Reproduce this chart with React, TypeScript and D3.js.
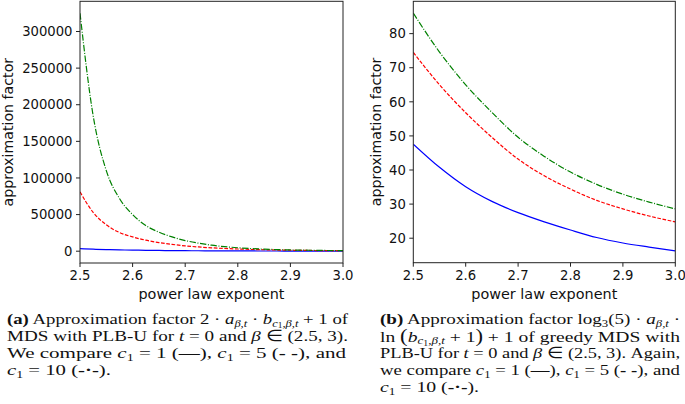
import React from 'react';
import * as d3 from 'd3';

// ---------- data ----------
const betaLeft = [2.5, 2.525, 2.55, 2.575, 2.6, 2.625, 2.65, 2.675, 2.7, 2.725, 2.75, 2.775, 2.8, 2.825, 2.85, 2.875, 2.9, 2.925, 2.95, 2.975, 3.0];
const leftC1 = [3400, 2700, 2150, 1750, 1450, 1200, 1000, 830, 700, 590, 500, 430, 370, 320, 280, 245, 215, 190, 165, 145, 125];
const leftC5 = [81000, 53000, 36000, 25500, 19500, 15000, 11800, 9300, 7300, 5800, 4600, 3700, 3000, 2450, 2000, 1600, 1300, 1100, 900, 750, 600];
const leftC10 = [325000, 185000, 110000, 72000, 50000, 35000, 26000, 19500, 14500, 11000, 8200, 6200, 4700, 3600, 2800, 2200, 1700, 1400, 1100, 950, 800];

const betaRight = [2.5, 2.55, 2.6, 2.65, 2.7, 2.75, 2.8, 2.85, 2.9, 2.95, 3.0];
const rightC1 = [47.6, 40.8, 35.1, 30.8, 27.5, 24.8, 22.4, 20.2, 18.6, 17.4, 16.3];
const rightC5 = [74.5, 65.0, 56.8, 49.6, 43.2, 38.3, 34.4, 31.1, 28.6, 26.5, 24.8];
const rightC10 = [86.0, 74.6, 65.0, 56.9, 49.6, 44.0, 39.4, 35.8, 32.9, 30.6, 28.6];

const xTicks = [2.5, 2.6, 2.7, 2.8, 2.9, 3.0];
const leftYTicks = [0, 50000, 100000, 150000, 200000, 250000, 300000];
const rightYTicks = [20, 30, 40, 50, 60, 70, 80];

const xLabel = 'power law exponent';
const yLabel = 'approximation factor';

const SANS = 'DejaVu Sans, sans-serif';
const SERIF = 'Liberation Serif, Times New Roman, serif';

type Series = { values: number[]; color: string; dash?: string };

function Panel(props: {
  left: number; right: number; top: number; bottom: number;
  xs: number[]; series: Series[]; yTicks: number[]; yLabelX: number;
}) {
  const { left, right, top, bottom, xs, series, yTicks, yLabelX } = props;
  const all = series.flatMap(s => s.values);
  const mn = d3.min(all)!, mx = d3.max(all)!;
  const pad = (mx - mn) * 0.05;
  const x = d3.scaleLinear().domain([2.5, 3.0]).range([left, right]);
  const y = d3.scaleLinear().domain([mn - pad, mx + pad]).range([bottom, top]);
  const line = (vals: number[]) =>
    d3.line<number>().x((_, i) => x(xs[i])).y(d => y(d)).curve(d3.curveMonotoneX)(vals) || '';
  const cx = (left + right) / 2;
  const cy = (top + bottom) / 2;
  const clipId = `clip-${Math.round(left)}`;
  return (
    <g>
      <defs>
        <clipPath id={clipId}>
          <rect x={left} y={top} width={right - left} height={bottom - top} />
        </clipPath>
      </defs>
      <g clipPath={`url(#${clipId})`}>
        {series.map((s, k) => (
          <path key={k} d={line(s.values)} fill="none" stroke={s.color} strokeWidth={1.2}
            strokeDasharray={s.dash} />
        ))}
      </g>
      <rect x={left} y={top} width={right - left} height={bottom - top} fill="none" stroke="#222" strokeWidth={1} />
      {xTicks.map(t => (
        <g key={t}>
          <line x1={x(t)} x2={x(t)} y1={bottom} y2={bottom + 4} stroke="#222" strokeWidth={1} />
          <text x={x(t)} y={bottom + 17} textAnchor="middle" fontFamily={SANS} fontSize={13.2} fill="#111">
            {t.toFixed(1)}
          </text>
        </g>
      ))}
      {yTicks.map(t => (
        <g key={t}>
          <line x1={left - 4} x2={left} y1={y(t)} y2={y(t)} stroke="#222" strokeWidth={1} />
          <text x={left - 7.5} y={y(t)} dy="0.36em" textAnchor="end" fontFamily={SANS} fontSize={13.2} fill="#111">
            {String(t)}
          </text>
        </g>
      ))}
      <text x={cx} y={bottom + 36} textAnchor="middle" fontFamily={SANS} fontSize={14.4} fill="#111">{xLabel}</text>
      <text transform={`translate(${yLabelX},${cy}) rotate(-90)`} textAnchor="middle" fontFamily={SANS}
        fontSize={14.2} fill="#111">{yLabel}</text>
    </g>
  );
}

type Seg = { t: string; i?: boolean; b?: boolean; s?: number; big?: boolean };

const BASE = 15.6;
const SUBSHIFT = [0, 2.6, 4.2];
const SUBSIZE = [BASE, 10.4, 7.8];

function CapLine(props: { x: number; y: number; w: number; segs: Seg[] }) {
  const { x, y, w, segs } = props;
  let prev = 0;
  return (
    <text x={x} y={y} fontFamily={SERIF} fontSize={BASE} fill="#111"
      textLength={w} lengthAdjust="spacingAndGlyphs" xmlSpace="preserve" style={{ whiteSpace: 'pre' }}>
      {segs.map((sg, k) => {
        const lvl = sg.s || 0;
        const dy = SUBSHIFT[lvl] - SUBSHIFT[prev];
        prev = lvl;
        return (
          <tspan key={k} dy={dy || undefined} fontStyle={sg.i ? 'italic' : undefined}
            fontWeight={sg.b ? 'bold' : undefined}
            fontSize={sg.big ? 18 : SUBSIZE[lvl]}>{sg.t}</tspan>
        );
      })}
    </text>
  );
}

const c1 = (): Seg[] => [{ t: 'c', i: true }, { t: '1', s: 1 }];
const bSub = (): Seg[] => [{ t: 'b', i: true }, { t: 'c', i: true, s: 1 }, { t: '1', s: 2 }, { t: ',β,t', i: true, s: 1 }];

const capLeft: Seg[][] = [
  [{ t: '(a)', b: true }, { t: ' Approximation factor 2 · ' }, { t: 'a', i: true }, { t: 'β,t', i: true, s: 1 },
    { t: ' · ' }, ...bSub(), { t: ' + 1 of' }],
  [{ t: 'MDS with PLB-U for ' }, { t: 't', i: true }, { t: ' = 0 and ' }, { t: 'β', i: true }, { t: ' ∈ (2.5, 3).' }],
  [{ t: 'We compare ' }, ...c1(), { t: ' = 1 (' }, { t: '—', b: true }, { t: '), ' }, ...c1(), { t: ' = 5 (', }, { t: '- -', b: true }, { t: '), and' }],
  [...c1(), { t: ' = 10 (' }, { t: '-·-', b: true }, { t: ').' }],
];

const capRight: Seg[][] = [
  [{ t: '(b)', b: true }, { t: ' Approximation factor log' }, { t: '3', s: 1 }, { t: '(5) · ' }, { t: 'a', i: true },
    { t: 'β,t', i: true, s: 1 }, { t: ' ·' }],
  [{ t: 'ln ' }, { t: '(', big: true }, ...bSub(), { t: ' + 1' }, { t: ')', big: true }, { t: ' + 1 of greedy MDS with' }],
  [{ t: 'PLB-U for ' }, { t: 't', i: true }, { t: ' = 0 and ' }, { t: 'β', i: true }, { t: ' ∈ (2.5, 3). Again,' }],
  [{ t: 'we compare ' }, ...c1(), { t: ' = 1 (' }, { t: '—', b: true }, { t: '), ' }, ...c1(), { t: ' = 5 (' }, { t: '- -', b: true }, { t: '), and' }],
  [...c1(), { t: ' = 10 (' }, { t: '-·-', b: true }, { t: ').' }],
];

export default function App() {
  const leftSeries: Series[] = [
    { values: leftC1, color: '#0000ff' },
    { values: leftC5, color: '#ff0000', dash: '3.7,1.6' },
    { values: leftC10, color: '#008000', dash: '6.4,1.6,1,1.6' },
  ];
  const rightSeries: Series[] = [
    { values: rightC1, color: '#0000ff' },
    { values: rightC5, color: '#ff0000', dash: '3.7,1.6' },
    { values: rightC10, color: '#008000', dash: '6.4,1.6,1,1.6' },
  ];
  const leftBase = [324, 341, 358, 375];
  const rightBase = [324, 341.5, 358, 375, 392];
  const leftWidths = [341, 341, 339, 104];
  const rightWidths = [300, 300, 300, 300, 99];
  return (
    <svg width={685} height={404} style={{ position: 'absolute', left: 0, top: 0, background: '#fff' }}>
      <rect width={685} height={404} fill="#fff" />
      <Panel left={80} right={343} top={1.3} bottom={263} xs={betaLeft} series={leftSeries}
        yTicks={leftYTicks} yLabelX={13} />
      <Panel left={413.3} right={675.3} top={1.3} bottom={262.7} xs={betaRight} series={rightSeries}
        yTicks={rightYTicks} yLabelX={381} />
      {capLeft.map((segs, k) => (
        <CapLine key={k} x={7} y={leftBase[k]} w={leftWidths[k]} segs={segs} />
      ))}
      {capRight.map((segs, k) => (
        <CapLine key={k} x={380} y={rightBase[k]} w={rightWidths[k]} segs={segs} />
      ))}
    </svg>
  );
}
